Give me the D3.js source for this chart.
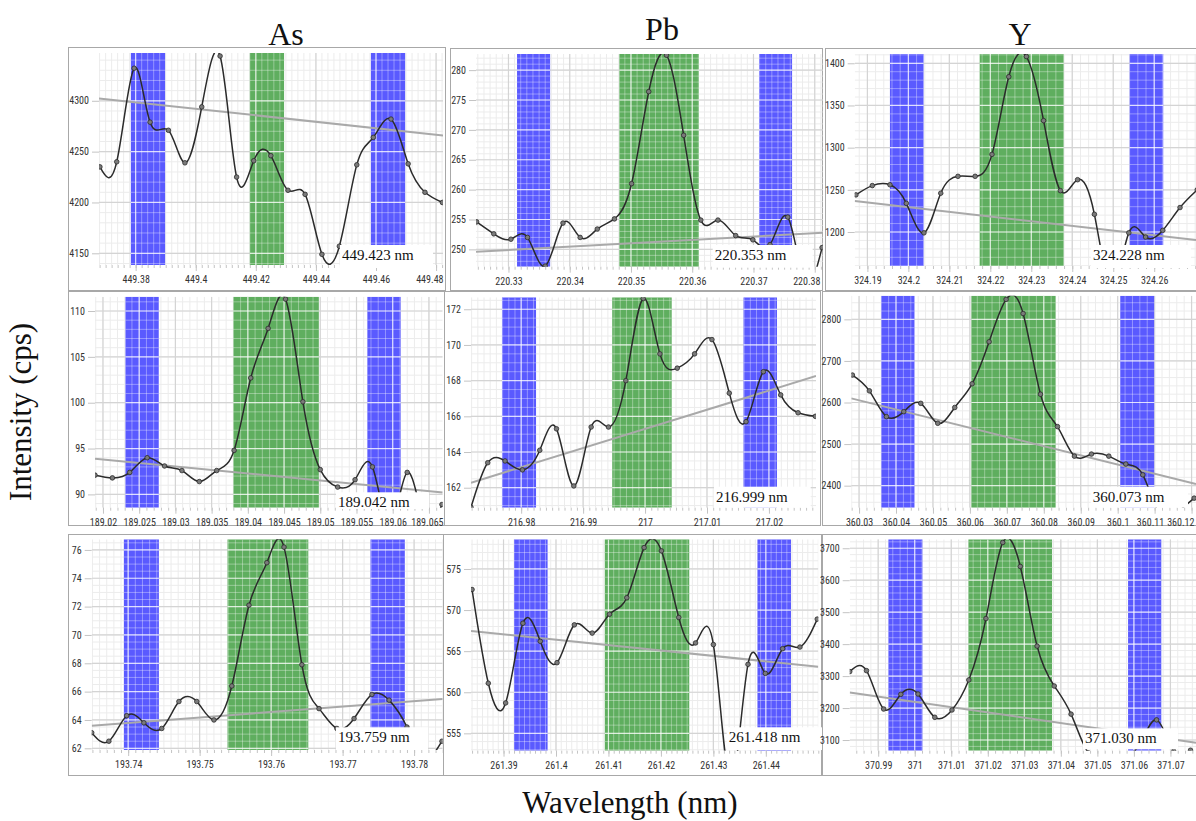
<!DOCTYPE html>
<html>
<head>
<meta charset="utf-8">
<script src="https://cdn.jsdelivr.net/npm/d3@7"></script>
<style>
body { margin: 0; background: #fff; }
.tick text { font-family: "Liberation Sans Narrow", "Roboto Condensed", "DejaVu Sans Condensed", Roboto, sans-serif; font-size: 10px; fill: #333; }
.serif { font-family: "Liberation Serif", "DejaVu Serif", serif; fill: #111; }
</style>
</head>
<body>
<svg id="canvas" width="1196" height="821"></svg>
<script>
// column titles, one per element
var elements = ["As", "Pb", "Y"];
var lineLabels = ["449.423 nm", "220.353 nm", "324.228 nm",
                  "189.042 nm", "216.999 nm", "360.073 nm",
                  "193.759 nm", "261.418 nm", "371.030 nm"];

// spectra: wavelength (nm) and intensity (cps)
var as449_wl = [449.3681, 449.3737, 449.3795, 449.3848, 449.3909, 449.3964, 449.4020, 449.4081, 449.4136, 449.4193, 449.4250, 449.4307, 449.4364, 449.4420, 449.4478, 449.4536, 449.4591, 449.4650, 449.4707, 449.4763, 449.4821];
var as449_cps = [4235, 4240, 4332, 4279, 4271, 4239, 4294, 4344, 4225, 4241, 4246, 4212, 4208, 4149, 4157, 4237, 4264, 4282, 4238, 4210, 4200];

var pb220_wl = [220.3248, 220.3276, 220.3304, 220.3331, 220.3360, 220.3389, 220.3417, 220.3445, 220.3473, 220.3501, 220.3529, 220.3558, 220.3586, 220.3614, 220.3642, 220.3671, 220.3699, 220.3727, 220.3756, 220.3784, 220.3812];
var pb220_cps = [254.6, 252.6, 251.7, 252.0, 247.2, 254.4, 252.0, 253.4, 255.1, 261.0, 276.4, 282.5, 269.1, 254.9, 254.9, 252.3, 251.6, 250.8, 255.4, 244.5, 250.3];

var y324_wl = [324.1872, 324.1912, 324.1955, 324.1995, 324.2038, 324.2079, 324.2121, 324.2163, 324.2204, 324.2245, 324.2288, 324.2330, 324.2371, 324.2413, 324.2454, 324.2496, 324.2538, 324.2579, 324.2621, 324.2663, 324.2705];
var y324_cps = [1244, 1255, 1256, 1234, 1199, 1246, 1266, 1266, 1292, 1384, 1408, 1332, 1249, 1262, 1221, 1135, 1199, 1194, 1202, 1229, 1250];

var as189_wl = [189.0189, 189.0213, 189.0237, 189.0261, 189.0285, 189.0309, 189.0333, 189.0357, 189.0381, 189.0404, 189.0428, 189.0452, 189.0476, 189.0500, 189.0524, 189.0548, 189.0572, 189.0596, 189.0620, 189.0644, 189.0668];
var as189_cps = [92.1, 91.8, 92.4, 94.0, 93.1, 92.6, 91.4, 92.6, 94.8, 102.7, 108.1, 111.3, 100.1, 92.7, 90.8, 91.6, 93.0, 86.5, 92.4, 87.0, 88.9];

var pb217_wl = [216.9719, 216.9746, 216.9774, 216.9802, 216.9830, 216.9857, 216.9885, 216.9913, 216.9941, 216.9969, 216.9997, 217.0024, 217.0052, 217.0080, 217.0108, 217.0136, 217.0163, 217.0191, 217.0219, 217.0247, 217.0275];
var pb217_cps = [160.9, 163.4, 163.5, 163.0, 164.1, 165.3, 162.1, 165.4, 165.4, 168.0, 172.6, 169.5, 168.7, 169.5, 170.3, 167.3, 165.7, 168.5, 167.2, 166.2, 166.0];

var y360_wl = [360.0282, 360.0328, 360.0374, 360.0421, 360.0467, 360.0513, 360.0559, 360.0606, 360.0652, 360.0698, 360.0744, 360.0791, 360.0837, 360.0883, 360.0929, 360.0976, 360.1022, 360.1068, 360.1114, 360.1161, 360.1207];
var y360_cps = [2666, 2628, 2566, 2578, 2598, 2550, 2588, 2645, 2746, 2848, 2814, 2620, 2542, 2471, 2476, 2471, 2452, 2426, 2330, 2335, 2370];

var as193_wl = [193.7349, 193.7373, 193.7398, 193.7422, 193.7447, 193.7471, 193.7496, 193.7520, 193.7545, 193.7569, 193.7594, 193.7618, 193.7643, 193.7667, 193.7692, 193.7716, 193.7741, 193.7765, 193.7790, 193.7814, 193.7839];
var as193_cps = [63.1, 62.5, 64.3, 63.8, 63.4, 65.3, 65.3, 64.0, 66.4, 72.1, 75.1, 76.2, 67.9, 64.8, 63.4, 64.1, 65.8, 65.4, 63.5, 61.3, 62.5];

var pb261_wl = [261.3840, 261.3871, 261.3904, 261.3937, 261.3970, 261.4002, 261.4035, 261.4069, 261.4102, 261.4135, 261.4168, 261.4201, 261.4234, 261.4266, 261.4300, 261.4333, 261.4366, 261.4399, 261.4432, 261.4465, 261.4498];
var pb261_cps = [572.5, 561.1, 558.7, 568.4, 566.2, 563.6, 568.2, 567.2, 569.5, 571.5, 577.6, 577.2, 569.1, 566.0, 565.8, 549.0, 563.4, 562.3, 565.3, 565.5, 568.9];

var y371_wl = [370.9822, 370.9868, 370.9915, 370.9962, 371.0009, 371.0055, 371.0102, 371.0148, 371.0195, 371.0241, 371.0289, 371.0335, 371.0382, 371.0428, 371.0475, 371.0522, 371.0568, 371.0615, 371.0662, 371.0709, 371.0755];
var y371_cps = [3314, 3317, 3197, 3243, 3244, 3171, 3194, 3288, 3480, 3718, 3643, 3394, 3269, 3181, 3060, 3045, 3050, 3085, 3163, 3065, 3068];

// panel order: row by row (As, Pb, Y)
var wavelengths = [as449_wl, pb220_wl, y324_wl, as189_wl, pb217_wl, y360_wl, as193_wl, pb261_wl, y371_wl];
var intensities = [as449_cps, pb220_cps, y324_cps, as189_cps, pb217_cps, y360_cps, as193_cps, pb261_cps, y371_cps];

var xDomains = [[449.3678, 449.4823], [220.3247, 220.3813], [324.1869, 324.2702],
                [189.0189, 189.0669], [216.9719, 217.0276], [360.0279, 360.1212],
                [193.7349, 193.7840], [261.3838, 261.4500], [370.9822, 371.0770]];
var yDomains = [[4138.5, 4347], [247.1, 282.7], [1159.7, 1411],
                [88.55, 111.56], [160.88, 172.67], [2347, 2856.9],
                [61.88, 76.75], [552.89, 578.61], [3066.6, 3728]];

var xTicks = [[449.38, 449.40, 449.42, 449.44, 449.46, 449.48],
              [220.33, 220.34, 220.35, 220.36, 220.37, 220.38],
              [324.19, 324.20, 324.21, 324.22, 324.23, 324.24, 324.25, 324.26],
              [189.02, 189.025, 189.03, 189.035, 189.04, 189.045, 189.05, 189.055, 189.06, 189.065],
              [216.98, 216.99, 217.00, 217.01, 217.02],
              [360.03, 360.04, 360.05, 360.06, 360.07, 360.08, 360.09, 360.10, 360.11, 360.12],
              [193.74, 193.75, 193.76, 193.77, 193.78],
              [261.39, 261.40, 261.41, 261.42, 261.43, 261.44],
              [370.99, 371.00, 371.01, 371.02, 371.03, 371.04, 371.05, 371.06, 371.07]];
var yTicks = [[4150, 4200, 4250, 4300],
              [250, 255, 260, 265, 270, 275, 280],
              [1200, 1250, 1300, 1350, 1400],
              [90, 95, 100, 105, 110],
              [162, 164, 166, 168, 170, 172],
              [2400, 2500, 2600, 2700, 2800],
              [62, 64, 66, 68, 70, 72, 74, 76],
              [555, 560, 565, 570, 575],
              [3100, 3200, 3300, 3400, 3500, 3600, 3700]];
var xMinor = [0.002, 0.001, 0.002, 0.001, 0.001, 0.002, 0.001, 0.001, 0.002];
var yMinor = [10, 1, 10, 1, 0.5, 20, 0.5, 1, 20];

// background windows (blue) and peak window (green)
var bandKinds = ["background", "peak", "background"];
var windows = [[[449.3784, 449.3898], [449.4180, 449.4294], [449.4583, 449.4697]],
               [[220.3314, 220.3368], [220.3481, 220.3611], [220.3709, 220.3763]],
               [[324.1955, 324.2037], [324.2174, 324.2379], [324.2540, 324.2622]],
               [[189.0231, 189.0277], [189.0380, 189.0498], [189.0565, 189.0611]],
               [[216.9769, 216.9824], [216.9947, 217.0043], [217.0159, 217.0213]],
               [[360.0360, 360.0450], [360.0604, 360.0832], [360.1007, 360.1099]],
               [[193.7394, 193.7443], [193.7539, 193.7652], [193.7739, 193.7787]],
               [[261.3920, 261.3984], [261.4093, 261.4254], [261.4384, 261.4448]],
               [[370.9928, 371.0021], [371.0147, 371.0376], [371.0584, 371.0675]]];

// background fit line: intensity at the left and right end of each panel
var fitEnds = [[4302.3, 4265.9], [249.6, 252.8], [1236.7, 1190.5],
               [93.9, 90.22], [162.28, 168.26], [2610, 2404],
               [63.6, 65.48], [567.45, 563.11], [3249, 3091.7]];

// page layout (pixels): plot area, screenshot frame, label box
var layout = [
  {plot: [99, 53, 443, 265], frame: [68, 47, 445, 290], box: [340, 245, 433, 268]},
  {plot: [476, 54, 822.7, 266.7], frame: [450, 48, 822, 290], box: [712.7, 245, 812.7, 267.7]},
  {plot: [854.7, 54, 1196, 266], frame: [825, 48, 1197, 290], box: [1091, 245, 1191, 268]},
  {plot: [95, 296.7, 442.7, 507.7], frame: [68, 291, 445, 525], box: [336, 492.3, 429, 509]},
  {plot: [471, 297.3, 816, 507.7], frame: [444, 291, 820, 525], box: [714, 486.7, 810.7, 507.7]},
  {plot: [851.3, 295.7, 1196, 507.7], frame: [822, 291, 1197, 525], box: [1090.7, 486.7, 1188, 507.7]},
  {plot: [91.7, 539.3, 442.7, 750], frame: [68, 534, 445, 775], box: [336, 727.3, 428, 750]},
  {plot: [471, 539.3, 818.3, 750.7], frame: [443, 534, 821, 775], box: [726.7, 727.3, 823, 750]},
  {plot: [849.7, 539.3, 1196, 750.7], frame: [822, 534, 1197, 775], box: [1083, 728.3, 1178, 749.3]}
];
var titlePos = [[286, 45], [662, 40], [1020, 45]];
var bandColor = {background: "#5a5aff", peak: "#5fae5f"};

var svg = d3.select("#canvas");
svg.append("rect").attr("width", 1196).attr("height", 821).attr("fill", "#fff");
var defs = svg.append("defs");
var fmt = d3.format("~f");

function gridValues(domain, step) {
	var out = [];
	var k0 = Math.ceil(domain[0] / step - 1e-6), k1 = Math.floor(domain[1] / step + 1e-6);
	for (var k = k0; k <= k1; k++) out.push(k * step);
	return out;
}

function drawGrid(g, xScale, yScale, i, light) {
	var r = layout[i].plot;
	var minorCol = light ? "rgba(255,255,255,0.35)" : "#ececec";
	var majorCol = light ? "rgba(255,255,255,0.7)" : "#d4d4d4";
	g.selectAll(".vmin").data(gridValues(xDomains[i], xMinor[i])).enter().append("line")
		.attr("x1", d => xScale(d)).attr("x2", d => xScale(d))
		.attr("y1", r[1]).attr("y2", r[3]).attr("stroke", minorCol).attr("stroke-width", 1);
	g.selectAll(".hmin").data(gridValues(yDomains[i], yMinor[i])).enter().append("line")
		.attr("y1", d => yScale(d)).attr("y2", d => yScale(d))
		.attr("x1", r[0]).attr("x2", r[2]).attr("stroke", minorCol).attr("stroke-width", 1);
	g.selectAll(".vmaj").data(xTicks[i]).enter().append("line")
		.attr("x1", d => xScale(d)).attr("x2", d => xScale(d))
		.attr("y1", r[1]).attr("y2", r[3]).attr("stroke", majorCol).attr("stroke-width", 1.2);
	g.selectAll(".hmaj").data(yTicks[i]).enter().append("line")
		.attr("y1", d => yScale(d)).attr("y2", d => yScale(d))
		.attr("x1", r[0]).attr("x2", r[2]).attr("stroke", majorCol).attr("stroke-width", 1.2);
}

wavelengths.forEach(function(wl, i) {
	var L = layout[i], r = L.plot;
	var xScale = d3.scaleLinear().domain(xDomains[i]).range([r[0], r[2]]);
	var yScale = d3.scaleLinear().domain(yDomains[i]).range([r[3], r[1]]);
	var g = svg.append("g");

	// screenshot frame
	g.append("rect")
		.attr("x", L.frame[0] + 0.5).attr("y", L.frame[1] + 0.5)
		.attr("width", L.frame[2] - L.frame[0]).attr("height", L.frame[3] - L.frame[1])
		.attr("fill", "#fff").attr("stroke", "#a8a8a8");

	defs.append("clipPath").attr("id", "plot" + i).append("rect")
		.attr("x", r[0]).attr("y", r[1]).attr("width", r[2] - r[0]).attr("height", r[3] - r[1]);
	var bc = defs.append("clipPath").attr("id", "bands" + i);
	windows[i].forEach(function(b) {
		bc.append("rect").attr("x", xScale(b[0])).attr("y", r[1])
			.attr("width", xScale(b[1]) - xScale(b[0])).attr("height", r[3] - r[1]);
	});

	var plot = g.append("g").attr("clip-path", "url(#plot" + i + ")");
	drawGrid(plot.append("g"), xScale, yScale, i, false);

	plot.selectAll(".band").data(windows[i]).enter().append("rect")
		.attr("x", d => xScale(d[0])).attr("width", d => xScale(d[1]) - xScale(d[0]))
		.attr("y", r[1]).attr("height", r[3] - r[1])
		.attr("fill", (d, k) => bandColor[bandKinds[k]]);
	drawGrid(plot.append("g").attr("clip-path", "url(#bands" + i + ")"), xScale, yScale, i, true);

	// background fit
	plot.append("line")
		.attr("x1", xScale(xDomains[i][0])).attr("y1", yScale(fitEnds[i][0]))
		.attr("x2", xScale(xDomains[i][1])).attr("y2", yScale(fitEnds[i][1]))
		.attr("stroke", "#a9a9a9").attr("stroke-width", 2);

	var pts = wl.map((w, k) => [w, intensities[i][k]]);
	var line = d3.line().x(d => xScale(d[0])).y(d => yScale(d[1])).curve(d3.curveNatural);
	plot.append("path").datum(pts).attr("d", line)
		.attr("fill", "none").attr("stroke", "#2b2b2b").attr("stroke-width", 1.5);
	plot.selectAll(".pt").data(pts).enter().append("circle")
		.attr("cx", d => xScale(d[0])).attr("cy", d => yScale(d[1])).attr("r", 2.3)
		.attr("fill", "#7a7a7a").attr("stroke", "#2b2b2b").attr("stroke-width", 0.8);

	// axes
	var yAxis = d3.axisLeft(yScale).tickValues(yTicks[i]).tickSize(7).tickPadding(3).tickFormat(fmt);
	var xAxis = d3.axisBottom(xScale).tickValues(xTicks[i]).tickSize(6).tickPadding(5).tickFormat(fmt);
	var xMinorAxis = d3.axisBottom(xScale).tickValues(gridValues(xDomains[i], xMinor[i])).tickSize(3).tickFormat("");
	g.append("g").attr("transform", "translate(" + r[0] + ",0)").call(yAxis);
	g.append("g").attr("transform", "translate(0," + r[3] + ")").call(xMinorAxis);
	var xg = g.append("g").attr("transform", "translate(0," + r[3] + ")").call(xAxis);
	g.selectAll(".domain").remove();
	g.selectAll(".tick line").attr("stroke", "#c4c4c4");

	// keep x labels inside the screenshot frame and apart from each other
	var maxR = Math.min(L.frame[2], 1196) - 2;
	var labels = xg.selectAll(".tick text").nodes();
	for (var k = labels.length - 1; k >= 0; k--) {
		var node = labels[k], w = node.getComputedTextLength(), tx = xScale(xTicks[i][k]);
		var right = Math.min(tx + w / 2, maxR);
		d3.select(node).attr("x", right - w / 2 - tx);
		maxR = right - w - 3;
	}
	var minL = L.frame[0] + 3;
	labels.forEach(function(node, k) {
		var w = node.getComputedTextLength(), tx = xScale(xTicks[i][k]);
		var left = tx + (+d3.select(node).attr("x")) - w / 2;
		if (left < minL) d3.select(node).attr("x", minL - tx + w / 2);
		minL = Math.max(left, minL) + w + 3;
	});

	// line label
	g.append("rect").attr("x", L.box[0]).attr("y", L.box[1])
		.attr("width", L.box[2] - L.box[0]).attr("height", L.box[3] - L.box[1]).attr("fill", "#fff");
	g.append("text").attr("class", "serif").attr("x", L.box[0] + 2).attr("y", L.box[1] + 15)
		.attr("font-size", 15).text(lineLabels[i]);
});

svg.selectAll(".title").data(elements).enter().append("text")
	.attr("class", "serif")
	.attr("x", (d, k) => titlePos[k][0]).attr("y", (d, k) => titlePos[k][1])
	.attr("text-anchor", "middle").attr("font-size", 32).text(d => d);

svg.append("text").attr("class", "serif")
	.attr("transform", "translate(31,412) rotate(-90)")
	.attr("text-anchor", "middle").attr("font-size", 31).text("Intensity (cps)");
svg.append("text").attr("class", "serif")
	.attr("x", 630).attr("y", 813)
	.attr("text-anchor", "middle").attr("font-size", 31).text("Wavelength (nm)");
</script>
</body>
</html>
